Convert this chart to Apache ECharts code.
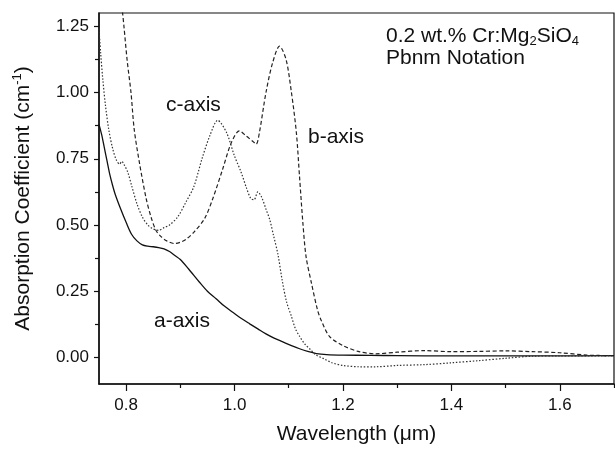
<!DOCTYPE html>
<html>
<head>
<meta charset="utf-8">
<script src="https://cdn.jsdelivr.net/npm/echarts@6/dist/echarts.min.js"></script>
<style>html,body{margin:0;padding:0;background:#fff}#c{width:615px;height:450px}</style>
</head>
<body>
<div id="c"></div>
<script>
// a-axis (solid)
var aX = [0.750,0.755,0.760,0.765,0.770,0.775,0.780,0.790,0.800,0.810,0.820,0.830,0.840,0.850,0.860,0.870,0.880,0.890,0.900,0.915,0.935,0.950,0.966,0.980,0.996,1.012,1.028,1.043,1.058,1.073,1.089,1.105,1.120,1.135,1.151,1.170,1.200,1.250,1.300,1.400,1.500,1.600,1.700];
var aY = [0.88,0.84,0.79,0.74,0.69,0.65,0.615,0.56,0.51,0.465,0.44,0.425,0.42,0.418,0.415,0.41,0.40,0.385,0.37,0.335,0.285,0.25,0.222,0.196,0.172,0.148,0.127,0.108,0.089,0.073,0.059,0.045,0.033,0.023,0.015,0.011,0.009,0.008,0.007,0.006,0.006,0.006,0.007];
// c-axis (dotted)
var cX = [0.750,0.753,0.757,0.762,0.768,0.775,0.782,0.788,0.792,0.797,0.803,0.810,0.820,0.830,0.840,0.850,0.860,0.870,0.880,0.895,0.910,0.925,0.940,0.955,0.969,0.985,1.000,1.012,1.022,1.030,1.036,1.043,1.050,1.058,1.065,1.072,1.080,1.088,1.096,1.105,1.112,1.120,1.130,1.140,1.150,1.165,1.180,1.200,1.230,1.260,1.300,1.350,1.400,1.450,1.500,1.550,1.600,1.700];
var cY = [1.24,1.15,1.05,0.95,0.86,0.79,0.745,0.73,0.74,0.725,0.70,0.65,0.58,0.53,0.50,0.485,0.48,0.49,0.50,0.53,0.585,0.645,0.75,0.84,0.895,0.85,0.76,0.70,0.64,0.60,0.595,0.625,0.605,0.56,0.52,0.46,0.39,0.29,0.21,0.155,0.11,0.08,0.05,0.03,0.01,-0.005,-0.02,-0.03,-0.035,-0.035,-0.03,-0.027,-0.02,-0.012,-0.003,0.005,0.006,0.006];
// b-axis (dashed)
var bX = [0.792,0.796,0.802,0.809,0.815,0.825,0.837,0.846,0.855,0.865,0.875,0.889,0.900,0.910,0.926,0.945,0.960,0.978,0.994,1.009,1.022,1.034,1.040,1.046,1.058,1.070,1.083,1.095,1.105,1.114,1.120,1.126,1.132,1.142,1.153,1.160,1.175,1.200,1.230,1.260,1.300,1.350,1.400,1.450,1.500,1.550,1.600,1.650,1.700];
var bY = [1.33,1.25,1.12,1.00,0.86,0.73,0.60,0.53,0.48,0.455,0.44,0.43,0.435,0.445,0.475,0.525,0.60,0.71,0.81,0.855,0.835,0.815,0.805,0.85,1.00,1.11,1.175,1.125,1.00,0.85,0.68,0.51,0.38,0.28,0.18,0.14,0.08,0.045,0.022,0.014,0.02,0.026,0.022,0.023,0.025,0.022,0.018,0.009,0.007];

var xTicks = [0.8,1.0,1.2,1.4,1.6];
var xMinor = [0.9,1.1,1.3,1.5,1.7];
var yTicks = [0.00,0.25,0.50,0.75,1.00,1.25];
var yMinor = [0.125,0.375,0.625,0.875,1.125];

function pairs(xs, ys){ return xs.map(function(x,i){return [x, ys[i]];}); }

var FONT = '"Liberation Sans", Arial, Helvetica, sans-serif';
var chart = echarts.init(document.getElementById('c'), null, {renderer:'canvas'});
var gridPos = {left:99, right:1, top:13, bottom:65};
chart.setOption({
  backgroundColor:'#fff',
  animation:false,
  textStyle:{fontFamily:FONT, color:'#111'},
  grid: Object.assign({show:true, borderColor:'#111', borderWidth:1.2, backgroundColor:'transparent'}, gridPos),
  xAxis:[{
    type:'value', min:0.75, max:1.7, position:'bottom',
    name:'Wavelength (\u03bcm)', nameLocation:'middle', nameGap:40,
    nameTextStyle:{fontSize:21, color:'#111', fontFamily:FONT},
    axisLine:{show:true, onZero:false, lineStyle:{color:'#111', width:1.5}},
    axisTick:{show:true, length:7, customValues:xTicks, lineStyle:{color:'#111', width:1.2}},
    axisLabel:{show:true, customValues:xTicks, margin:13, fontSize:17, color:'#111', fontFamily:FONT,
      formatter:function(v){return v.toFixed(1);}},
    splitLine:{show:false}
  },{
    type:'value', min:0.75, max:1.7, position:'bottom',
    axisLine:{show:false, onZero:false},
    axisTick:{show:true, length:4, customValues:xMinor, lineStyle:{color:'#111', width:1.2}},
    axisLabel:{show:false}, splitLine:{show:false}
  }],
  yAxis:[{
    type:'value', min:-0.1, max:1.3, position:'left',
    name:'Absorption Coefficient (cm{sup|-1})', nameLocation:'middle', nameGap:64,
    nameTextStyle:{fontSize:21, color:'#111', fontFamily:FONT, lineHeight:24,
      rich:{sup:{fontSize:13, lineHeight:13, verticalAlign:'top', color:'#111', fontFamily:FONT}}},
    axisLine:{show:true, onZero:false, lineStyle:{color:'#111', width:1.5}},
    axisTick:{show:true, length:5, customValues:yTicks, lineStyle:{color:'#111', width:1.2}},
    axisLabel:{show:true, customValues:yTicks, margin:10, fontSize:17, color:'#111', fontFamily:FONT,
      formatter:function(v){return v.toFixed(2);}},
    splitLine:{show:false}
  },{
    type:'value', min:-0.1, max:1.3, position:'left',
    axisLine:{show:false, onZero:false},
    axisTick:{show:true, length:4, customValues:yMinor, lineStyle:{color:'#111', width:1.2}},
    axisLabel:{show:false}, splitLine:{show:false}
  }],
  series:[
    {name:'a-axis', type:'line', data:pairs(aX,aY), showSymbol:false, smooth:0.3, clip:true,
      lineStyle:{color:'#111', width:1.3, type:'solid'}},
    {name:'c-axis', type:'line', data:pairs(cX,cY), showSymbol:false, smooth:0.3, clip:true,
      lineStyle:{color:'#333', width:1.2, type:[1.5,1.8]}},
    {name:'b-axis', type:'line', data:pairs(bX,bY), showSymbol:false, smooth:0.3, clip:true,
      lineStyle:{color:'#222', width:1.2, type:[4,2.5]}}
  ],
  graphic:[
    {type:'text', left:386, top:24, style:{
      text:'0.2 wt.% Cr:Mg{sub|2}SiO{sub|4}', fontSize:21, lineHeight:24, fill:'#111', font:'21px '+FONT,
      rich:{sub:{fontSize:13, lineHeight:13, verticalAlign:'bottom', fontFamily:FONT}}}},
    {type:'text', left:386, top:48, style:{text:'Pbnm Notation', fill:'#111', font:'21px '+FONT}},
    {type:'text', left:166, top:95, style:{text:'c-axis', fill:'#111', font:'21px '+FONT}},
    {type:'text', left:308, top:127, style:{text:'b-axis', fill:'#111', font:'21px '+FONT}},
    {type:'text', left:154, top:311, style:{text:'a-axis', fill:'#111', font:'21px '+FONT}}
  ]
});
</script>
</body>
</html>
